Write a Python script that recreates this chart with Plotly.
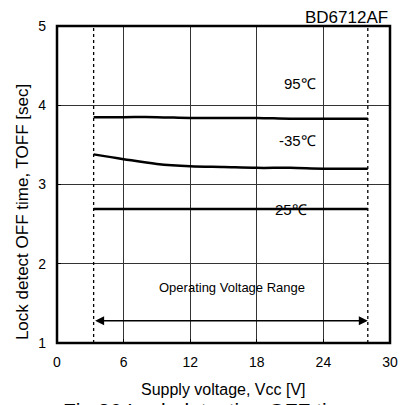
import plotly.graph_objects as go

# Data
vcc = [3.3, 6, 9, 12, 15, 18, 21, 24, 28]
t_95 = [3.85, 3.85, 3.85, 3.84, 3.84, 3.84, 3.83, 3.83, 3.83]
t_m35 = [3.38, 3.32, 3.26, 3.23, 3.22, 3.21, 3.21, 3.20, 3.20]
t_25 = [2.69, 2.69, 2.69, 2.69, 2.69, 2.69, 2.69, 2.69, 2.69]
x_ticks = [0, 6, 12, 18, 24, 30]
y_ticks = [1, 2, 3, 4, 5]
range_lo, range_hi = 3.3, 28
labels = [("95℃", 21.9, 4.27), ("-35℃", 21.7, 3.55), ("25℃", 21.1, 2.69)]

FONT = "Liberation Sans, Arial, sans-serif"

fig = go.Figure()

# operating range dotted lines
for xv in (range_lo, range_hi):
    fig.add_trace(go.Scatter(x=[xv, xv], y=[1, 5], mode="lines",
                             line=dict(color="black", width=1.3, dash="dot"),
                             showlegend=False, hoverinfo="skip"))

for ys in (t_95, t_m35, t_25):
    fig.add_trace(go.Scatter(x=vcc, y=ys, mode="lines",
                             line=dict(color="black", width=2.5, shape="spline"),
                             showlegend=False))

for txt, xv, yv in labels:
    fig.add_annotation(x=xv, y=yv, text=txt, showarrow=False,
                       font=dict(family=FONT, size=15, color="black"))

fig.add_annotation(x=15.8, y=1.7, text="Operating Voltage Range", showarrow=False,
                   font=dict(family=FONT, size=13, color="black"))

# double arrow
fig.add_annotation(x=range_hi, y=1.28, ax=range_lo, ay=1.28, xref="x", yref="y",
                   axref="x", ayref="y", text="", showarrow=True,
                   arrowhead=2, arrowside="end+start", arrowwidth=1.5,
                   arrowsize=1.2, arrowcolor="black")

fig.add_annotation(x=1, y=1.0, xref="paper", yref="paper", xanchor="right",
                   yanchor="bottom", text="BD6712AF", showarrow=False,
                   font=dict(family=FONT, size=17, color="black"), yshift=-3)

fig.add_annotation(x=0.4985, y=-0.148, xref="paper", yref="paper",
                   xanchor="center", yanchor="middle",
                   text="Supply voltage, Vcc [V]", showarrow=False,
                   font=dict(family=FONT, size=16, color="black"))

fig.add_annotation(x=-0.105, y=0.413, xref="paper", yref="paper",
                   xanchor="center", yanchor="middle", textangle=-90,
                   text="Lock detect OFF time, TOFF [sec]", showarrow=False,
                   font=dict(family=FONT, size=17, color="black"))

fig.add_annotation(x=0.012, y=0, xref="paper", yref="paper", xanchor="left",
                   yanchor="top", text="Fig.36 Lock detection OFF time", showarrow=False,
                   font=dict(family=FONT, size=21, color="black"), yshift=-54)

fig.add_shape(type="rect", xref="paper", yref="paper", x0=0, y0=0, x1=1, y1=1,
              line=dict(color="black", width=2.5))

fig.update_layout(
    width=407, height=405,
    margin=dict(l=57, r=17, t=26, b=62, autoexpand=False),
    paper_bgcolor="white", plot_bgcolor="white",
    font=dict(family=FONT, size=14, color="black"),
    xaxis=dict(range=[0, 30], tickvals=x_ticks, showgrid=True,
               gridcolor="#333", gridwidth=1, zeroline=False, automargin=False,
               ticks="inside", ticklen=4, tickcolor="black",
               tickfont=dict(family=FONT, size=14), ticklabelstandoff=9),
    yaxis=dict(range=[1, 5], tickvals=y_ticks, showgrid=True,
               gridcolor="#333", gridwidth=1, zeroline=False, automargin=False,
               ticks="inside", ticklen=4, tickcolor="black",
               tickfont=dict(family=FONT, size=14), ticklabelstandoff=10),
)

fig.write_html("out.html", config={"displayModeBar": False},
               post_script="document.body.style.margin='0';document.body.style.overflow='hidden';")
